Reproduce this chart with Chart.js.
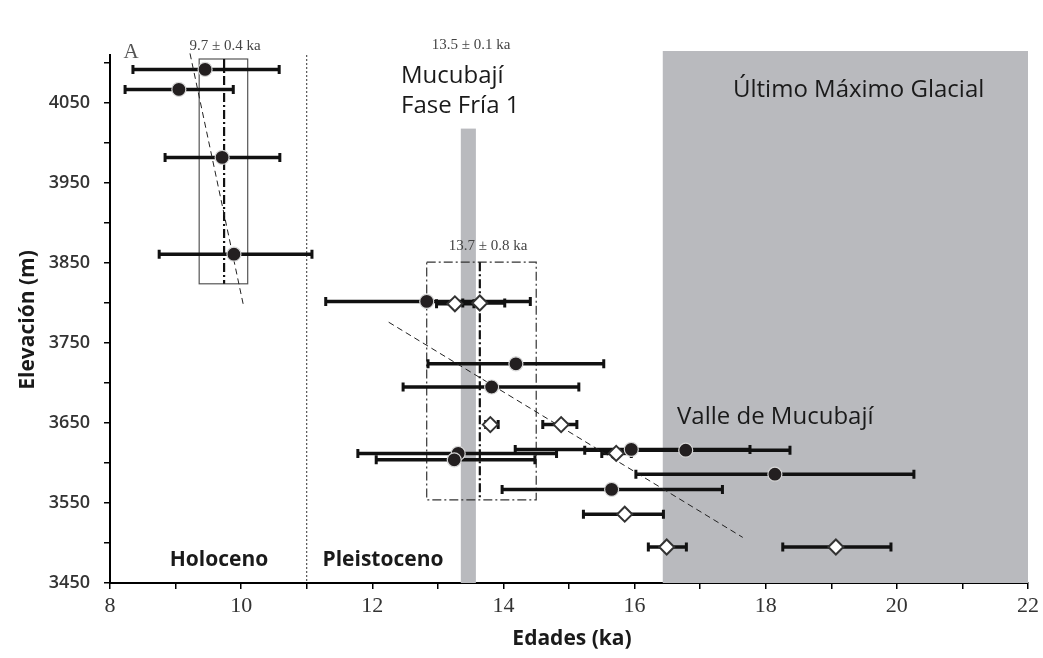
<!DOCTYPE html>
<html lang="es">
<head>
<meta charset="UTF-8">
<title>Elevación vs edades - Mucubají</title>
<script src="https://cdn.jsdelivr.net/npm/chart.js"></script>
<style>
  body { margin: 0; background: #fff; }
  #wrap { width: 1043px; height: 658px; }
</style>
</head>
<body>
<div id="wrap"><canvas id="chart" width="1043" height="658"></canvas></div>
<script>
// filled circles (age ka, elevation m, error range)
const circleAge  = [9.45, 9.05, 9.71, 9.89, 12.83, 14.19, 13.82, 13.31, 13.25, 15.95, 16.78, 18.14, 15.65];
const circleElev = [4092, 4067, 3982, 3861, 3802, 3724, 3695, 3612, 3604, 3617, 3616, 3586, 3567];
const circleLow  = [8.35, 8.23, 8.84, 8.75, 11.29, 12.85, 12.47, 11.78, 12.06, 14.18, 15.24, 16.02, 13.98];
const circleHigh = [10.58, 9.88, 10.59, 11.08, 14.41, 15.53, 15.15, 14.81, 14.48, 17.76, 18.37, 20.26, 17.34];

// open diamonds
const diaAge  = [13.26, 13.64, 13.80, 14.88, 15.72, 15.85, 16.49, 19.07];
const diaElev = [3799, 3800, 3648, 3648, 3612, 3536, 3495, 3495];
const diaLow  = [12.98, 13.38, 13.73, 14.60, 15.50, 15.22, 16.21, 18.26];
const diaHigh = [13.55, 14.02, 13.92, 15.12, 15.95, 16.44, 16.79, 19.91];

// shaded periods [x0, x1, y0, y1]
const faseFria = [13.35, 13.58, 3450, 4018];
const lgm = [16.43, 22, 3450, 4115];
// age boxes [x0, x1, y0, y1] and their mean age
const holoBox = [9.36, 10.10, 3824, 4105];
const holoMean = 9.74;
const pleiBox = [12.83, 14.50, 3554, 3851];
const pleiMean = 13.64;
// trend lines [x0, y0, x1, y1]
const holoTrend = [9.22, 4112, 10.03, 3799];
const pleiTrend = [12.25, 3776, 17.65, 3507];
const boundaryAge = 11;

const xTicks = [8, 10, 12, 14, 16, 18, 20, 22];
const yTicks = [3450, 3550, 3650, 3750, 3850, 3950, 4050];

function pts(ax, ay) { return ax.map((v, i) => ({ x: v, y: ay[i] })); }

function errBars(ctx, x, y, elev, lo, hi) {
  for (let i = 0; i < elev.length; i++) {
    const py = y.getPixelForValue(elev[i]);
    const a = x.getPixelForValue(lo[i]), b = x.getPixelForValue(hi[i]);
    ctx.lineWidth = 3.5;
    ctx.beginPath(); ctx.moveTo(a, py); ctx.lineTo(b, py); ctx.stroke();
    ctx.lineWidth = 3;
    ctx.beginPath();
    ctx.moveTo(a, py - 4.5); ctx.lineTo(a, py + 4.5);
    ctx.moveTo(b, py - 4.5); ctx.lineTo(b, py + 4.5);
    ctx.stroke();
  }
}

const overlay = {
  id: 'overlay',
  beforeDatasetsDraw(chart) {
    const { ctx, scales: { x, y } } = chart;
    const X = v => x.getPixelForValue(v), Y = v => y.getPixelForValue(v);
    ctx.save();
    ctx.fillStyle = '#b9babe';
    [faseFria, lgm].forEach(r => ctx.fillRect(X(r[0]), Y(r[3]), X(r[1]) - X(r[0]), Y(r[2]) - Y(r[3])));

    // Holocene / Pleistocene boundary
    ctx.strokeStyle = '#333'; ctx.lineWidth = 1; ctx.setLineDash([2, 2]);
    ctx.beginPath(); ctx.moveTo(X(boundaryAge), Y(4110)); ctx.lineTo(X(boundaryAge), Y(3450)); ctx.stroke();

    // boxes
    ctx.setLineDash([]); ctx.strokeStyle = '#555'; ctx.lineWidth = 1.2;
    ctx.strokeRect(X(holoBox[0]), Y(holoBox[3]), X(holoBox[1]) - X(holoBox[0]), Y(holoBox[2]) - Y(holoBox[3]));
    ctx.setLineDash([9, 3, 2, 3]); ctx.strokeStyle = '#333';
    ctx.strokeRect(X(pleiBox[0]), Y(pleiBox[3]), X(pleiBox[1]) - X(pleiBox[0]), Y(pleiBox[2]) - Y(pleiBox[3]));
    ctx.lineWidth = 2.2; ctx.strokeStyle = '#111';
    ctx.beginPath(); ctx.moveTo(X(holoMean), Y(holoBox[3])); ctx.lineTo(X(holoMean), Y(holoBox[2])); ctx.stroke();
    ctx.beginPath(); ctx.moveTo(X(pleiMean), Y(pleiBox[3])); ctx.lineTo(X(pleiMean), Y(pleiBox[2])); ctx.stroke();

    // error bars
    ctx.setLineDash([]); ctx.strokeStyle = '#111';
    errBars(ctx, x, y, circleElev, circleLow, circleHigh);
    errBars(ctx, x, y, diaElev, diaLow, diaHigh);

    // trend lines
    ctx.setLineDash([6, 4]); ctx.lineWidth = 1; ctx.strokeStyle = '#222';
    [holoTrend, pleiTrend].forEach(t => {
      ctx.beginPath(); ctx.moveTo(X(t[0]), Y(t[1])); ctx.lineTo(X(t[2]), Y(t[3])); ctx.stroke();
    });
    ctx.restore();
  },
  afterDraw(chart) {
    const ctx = chart.ctx;
    ctx.save();
    ctx.fillStyle = '#1a1a1a';
    ctx.textBaseline = 'alphabetic';
    ctx.textAlign = 'left';
    ctx.font = '24px "Open Sans"';
    ctx.fillText('Mucubají', 401, 83);
    ctx.fillText('Fase Fría 1', 401, 113);
    ctx.fillText('Último Máximo Glacial', 733, 97);
    ctx.fillText('Valle de Mucubají', 677, 424);
    ctx.font = 'bold 21px "Open Sans"';
    ctx.textAlign = 'center';
    ctx.fillText('Holoceno', 219, 566);
    ctx.fillText('Pleistoceno', 383, 566);
    ctx.fillText('Edades (ka)', 572, 645);
    ctx.save();
    ctx.translate(34, 320); ctx.rotate(-Math.PI / 2);
    ctx.fillText('Elevación (m)', 0, 0);
    ctx.restore();
    ctx.fillStyle = '#444';
    ctx.font = '15px "Liberation Serif"';
    ctx.fillText('9.7 ± 0.4 ka', 225, 50);
    ctx.fillText('13.5 ± 0.1 ka', 471, 49);
    ctx.fillText('13.7 ± 0.8 ka', 488, 250);
    ctx.font = '21px "Liberation Serif"';
    ctx.fillStyle = '#555';
    ctx.fillText('A', 131, 58);
    ctx.restore();
  }
};

new Chart(document.getElementById('chart'), {
  type: 'scatter',
  data: {
    datasets: [
      {
        data: pts(circleAge, circleElev),
        pointStyle: 'circle', pointRadius: 7,
        backgroundColor: '#231f20', borderColor: '#d8d8d8', borderWidth: 1.2
      },
      {
        data: pts(diaAge, diaElev),
        pointStyle: 'rectRot', pointRadius: 7.5,
        backgroundColor: '#ffffff', borderColor: '#333', borderWidth: 2
      }
    ]
  },
  options: {
    responsive: false,
    animation: false,
    layout: { padding: { top: 55, right: 15, left: 0, bottom: 0 } },
    plugins: { legend: { display: false }, tooltip: { enabled: false } },
    scales: {
      x: {
        type: 'linear', min: 8, max: 22,
        afterFit: s => { s.height = 75; },
        border: { display: true, color: '#000', width: 2 },
        grid: { drawOnChartArea: false, color: '#000', tickLength: 6, lineWidth: 1.5 },
        ticks: {
          stepSize: 1, autoSkip: false, maxRotation: 0, padding: 4,
          color: '#333', font: { family: 'Liberation Serif', size: 22 },
          callback: v => xTicks.includes(v) ? v : ''
        }
      },
      y: {
        type: 'linear', min: 3450, max: 4110,
        afterFit: s => { s.width = 110; },
        border: { display: true, color: '#000', width: 2 },
        grid: { drawOnChartArea: false, color: '#000', tickLength: 6, lineWidth: 1.5 },
        ticks: {
          stepSize: 50, includeBounds: false, padding: 14,
          color: '#333', font: { family: 'Open Sans', size: 18, weight: '600' },
          callback: v => yTicks.includes(v) ? v : ''
        }
      }
    }
  },
  plugins: [overlay]
});
</script>
</body>
</html>
